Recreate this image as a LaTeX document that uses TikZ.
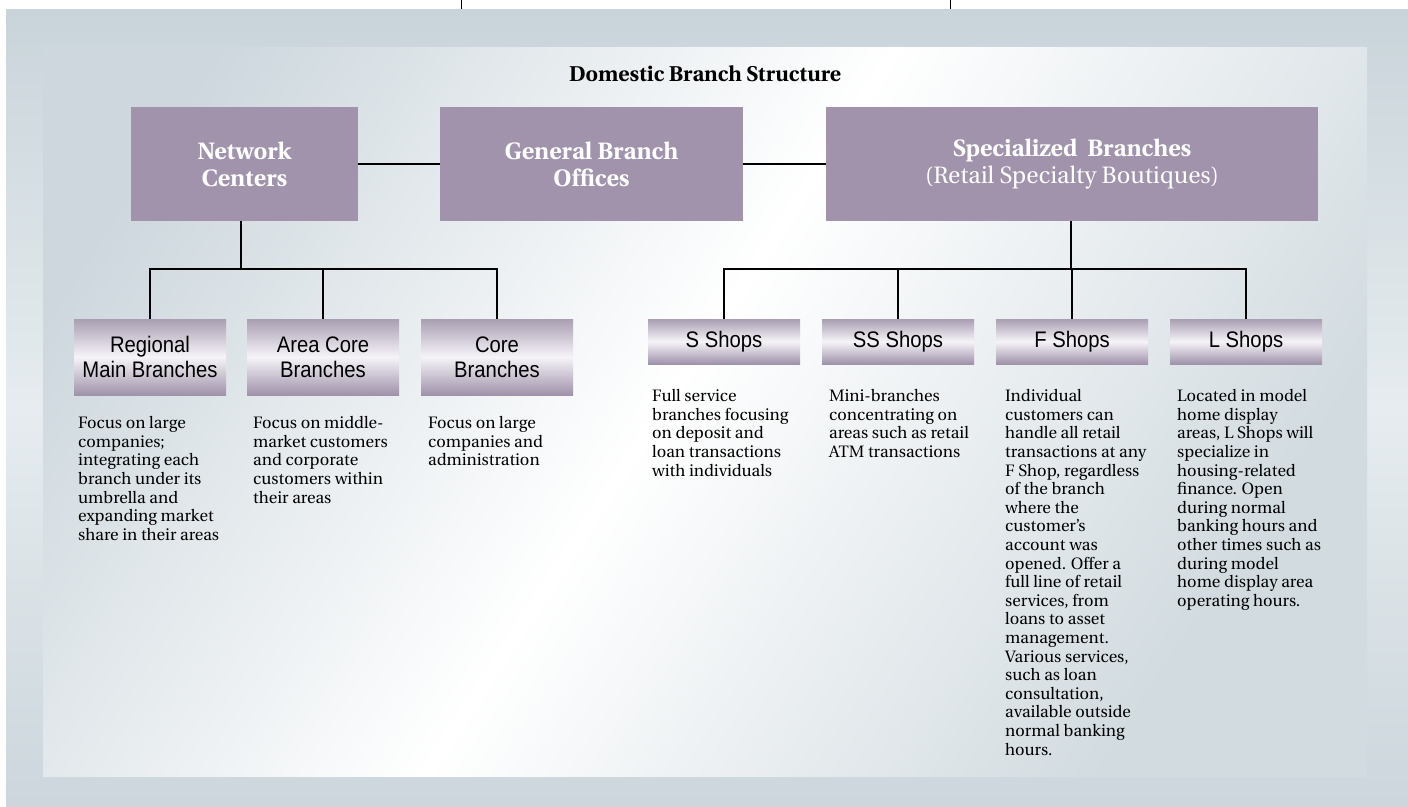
\documentclass[tikz,border=0pt]{standalone}
\usepackage[T1]{fontenc}
\usepackage{fontspec}
\newfontfamily\condsans[FakeStretch=0.9]{Liberation Sans}
\newcommand\utop{\fontencoding{T1}\fontfamily{put}\selectfont}
\definecolor{boxpurple}{HTML}{A093AB}
\definecolor{subtop}{HTML}{A99EB2}
\definecolor{submid}{HTML}{F6F4F8}
\definecolor{subbot}{HTML}{9F92AA}
\definecolor{outertop}{HTML}{C9D4DA}
\definecolor{outermid}{HTML}{E6ECEF}
\definecolor{outerbot}{HTML}{CCD6DC}
\definecolor{innerA}{HTML}{CDD7DD}
\definecolor{innerB}{HTML}{D2DBE0}
\begin{document}
\begin{tikzpicture}[x=1pt,y=-1pt,
  topbox/.style={fill=boxpurple, text=white, align=center, inner sep=0pt,
    minimum height=114pt, font=\utop\bfseries\fontsize{23.7}{27.5}\selectfont},
  subbox/.style={top color=subtop, bottom color=subbot, middle color=submid,
    align=center, inner sep=0pt, minimum width=152pt,
    font=\condsans\fontsize{22.5}{25}\selectfont},
  desc/.style={anchor=north west, align=left, inner sep=0pt,
    font=\utop\fontsize{16.5}{18.6}\selectfont, execute at begin node=\strut},
  link/.style={line width=2.6pt, black}]
\useasboundingbox (0,0) rectangle (1408,806);
\fill[white] (0,0) rectangle (1408,806);
\draw[line width=1pt] (461,0) -- (461,9);
\draw[line width=1pt] (950,0) -- (950,9);
\shade[top color=outertop, bottom color=outerbot, middle color=outermid] (6,9) rectangle (1408,806);
\begin{scope}
\clip (43,47) rectangle (1367,776);
\shade[left color=innerA, right color=innerB, middle color=white, shading angle=57] (-47,47) rectangle (1367,776);
\end{scope}

\node[font=\utop\bfseries\fontsize{21.4}{25}\selectfont] (title) at (705,73) {Domestic Branch Structure};

\node[topbox, minimum width=227pt] (nc) at (244.5,164) {Network\\Centers};
\node[topbox, minimum width=303pt] (gbo) at (591.5,164) {General Branch\\Offices};
\node[topbox, minimum width=492pt] (sb) at (1072,164) {Specialized\ \ Branches\\\mdseries(Retail Specialty Boutiques)};

\node[subbox, minimum height=76pt] (rmb) at (150,357) {Regional\\Main Branches};
\node[subbox, minimum height=76pt] (acb) at (323,357) {Area Core\\Branches};
\node[subbox, minimum height=76pt] (cb) at (497,357) {Core\\Branches};
\node[subbox, minimum height=45pt] (ss) at (724,341.5) {S Shops};
\node[subbox, minimum height=45pt] (sss) at (898,341.5) {SS Shops};
\node[subbox, minimum height=45pt] (fs) at (1072,341.5) {F Shops};
\node[subbox, minimum height=45pt] (ls) at (1246,341.5) {L Shops};

\coordinate (j1) at (241,269);
\coordinate (j2) at (1071,269);
\draw[link] (nc.east) -- (gbo.west);
\draw[link] (gbo.east) -- (sb.west);
\draw[link] (j1 |- nc.south) -- (j1);
\draw[link] (rmb.north) -- (rmb.north |- j1) -- (cb.north |- j1) -- (cb.north);
\draw[link] (acb.north) -- (acb.north |- j1);
\draw[link] (j2 |- sb.south) -- (j2);
\draw[link] (ss.north) -- (ss.north |- j2) -- (ls.north |- j2) -- (ls.north);
\draw[link] (sss.north) -- (sss.north |- j2);
\draw[link] (fs.north) -- (fs.north |- j2);

\node[desc] (d1) at (78,416) {Focus on large\\companies;\\integrating each\\branch under its\\umbrella and\\expanding market\\share in their areas};
\node[desc] (d2) at (253,416) {Focus on middle-\\market customers\\and corporate\\customers within\\their areas};
\node[desc] (d3) at (428,416) {Focus on large\\companies and\\administration};
\node[desc] (d4) at (652,389) {Full service\\branches focusing\\on deposit and\\loan transactions\\with individuals};
\node[desc] (d5) at (829,389) {Mini-branches\\concentrating on\\areas such as retail\\ATM transactions};
\node[desc] (d6) at (1005,389) {Individual\\customers can\\handle all retail\\transactions at any\\F Shop, regardless\\of the branch\\where the\\customer's\\account was\\opened. Offer a\\full line of retail\\services, from\\loans to asset\\management.\\Various services,\\such as loan\\consultation,\\available outside\\normal banking\\hours.};
\node[desc] (d7) at (1177,389) {Located in model\\home display\\areas, L Shops will\\specialize in\\housing-related\\finance. Open\\during normal\\banking hours and\\other times such as\\during model\\home display area\\operating hours.};
\end{tikzpicture}
\end{document}
